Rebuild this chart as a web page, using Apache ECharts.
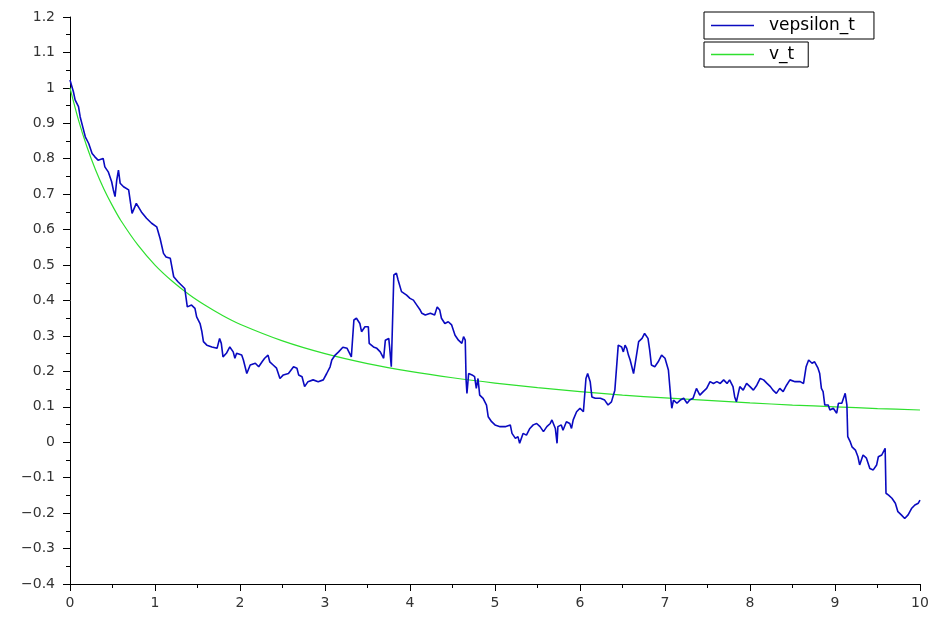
<!DOCTYPE html>
<html>
<head>
<meta charset="utf-8">
<script src="https://cdn.jsdelivr.net/npm/echarts@6/dist/echarts.min.js"></script>
<style>
html,body{margin:0;padding:0;background:#fff;}
#chart{width:935px;height:619px;}
</style>
</head>
<body>
<div id="chart"></div>
<script>
// ---- data ----
const seriesNames = ['vepsilon_t', 'v_t'];

// vepsilon_t : time values
const vepsT = [
  0, 0.02, 0.04, 0.06, 0.10, 0.12, 0.15, 0.18, 0.22, 0.26, 0.29, 0.33, 0.39, 0.41, 0.45, 0.49, 0.51, 0.53, 0.55, 0.57,
  0.59, 0.63, 0.69, 0.73, 0.78, 0.84, 0.90, 0.96, 1.02, 1.06, 1.10, 1.13, 1.18, 1.22, 1.27, 1.35, 1.37, 1.38, 1.43, 1.47,
  1.49, 1.53, 1.55, 1.57, 1.61, 1.67, 1.73, 1.76, 1.78, 1.80, 1.84, 1.88, 1.92, 1.94, 1.96, 2.02, 2.04, 2.08, 2.12, 2.18,
  2.22, 2.26, 2.29, 2.33, 2.35, 2.39, 2.43, 2.47, 2.51, 2.57, 2.63, 2.67, 2.69, 2.73, 2.76, 2.80, 2.86, 2.92, 2.98, 3.02,
  3.06, 3.08, 3.12, 3.16, 3.21, 3.26, 3.31, 3.33, 3.34, 3.37, 3.41, 3.43, 3.47, 3.51, 3.52, 3.57, 3.61, 3.65, 3.69, 3.71,
  3.75, 3.76, 3.78, 3.80, 3.81, 3.84, 3.86, 3.90, 3.96, 4.00, 4.04, 4.08, 4.12, 4.14, 4.18, 4.24, 4.29, 4.32, 4.35, 4.37,
  4.41, 4.45, 4.49, 4.53, 4.57, 4.61, 4.63, 4.65, 4.66, 4.67, 4.69, 4.73, 4.76, 4.78, 4.80, 4.82, 4.86, 4.90, 4.92, 4.96,
  5.00, 5.06, 5.12, 5.18, 5.20, 5.24, 5.27, 5.29, 5.33, 5.37, 5.41, 5.45, 5.49, 5.53, 5.57, 5.61, 5.65, 5.67, 5.71, 5.73,
  5.74, 5.78, 5.80, 5.84, 5.88, 5.90, 5.92, 5.96, 6.00, 6.04, 6.07, 6.09, 6.12, 6.14, 6.18, 6.24, 6.29, 6.33, 6.37, 6.41,
  6.43, 6.45, 6.49, 6.51, 6.53, 6.55, 6.57, 6.59, 6.63, 6.65, 6.69, 6.73, 6.76, 6.80, 6.82, 6.84, 6.88, 6.92, 6.96, 7.00,
  7.04, 7.07, 7.08, 7.10, 7.14, 7.18, 7.22, 7.26, 7.29, 7.33, 7.37, 7.41, 7.45, 7.49, 7.53, 7.57, 7.61, 7.65, 7.69, 7.73,
  7.76, 7.80, 7.82, 7.84, 7.88, 7.92, 7.96, 8.00, 8.04, 8.08, 8.12, 8.16, 8.20, 8.24, 8.27, 8.31, 8.35, 8.39, 8.43, 8.47,
  8.53, 8.59, 8.63, 8.66, 8.69, 8.73, 8.76, 8.80, 8.82, 8.84, 8.86, 8.88, 8.92, 8.94, 8.98, 9.02, 9.04, 9.08, 9.12, 9.14,
  9.15, 9.18, 9.20, 9.24, 9.27, 9.29, 9.33, 9.37, 9.41, 9.45, 9.49, 9.51, 9.55, 9.59, 9.60, 9.63, 9.67, 9.71, 9.74, 9.78,
  9.82, 9.86, 9.90, 9.94, 9.98, 10.00
];
// vepsilon_t : values
const vepsV = [
  1.022, 1.027, 0.989, 0.966, 0.947, 0.918, 0.890, 0.862, 0.843, 0.815, 0.806, 0.796, 0.801, 0.777, 0.763, 0.735, 0.712, 0.693, 0.740, 0.768,
  0.731, 0.721, 0.712, 0.646, 0.674, 0.650, 0.632, 0.618, 0.608, 0.575, 0.533, 0.523, 0.519, 0.467, 0.453, 0.434, 0.429, 0.382, 0.387, 0.378,
  0.354, 0.335, 0.314, 0.284, 0.274, 0.269, 0.265, 0.293, 0.279, 0.241, 0.251, 0.269, 0.255, 0.237, 0.251, 0.246, 0.232, 0.194, 0.218, 0.223,
  0.213, 0.227, 0.237, 0.246, 0.227, 0.218, 0.209, 0.180, 0.190, 0.194, 0.213, 0.209, 0.190, 0.185, 0.157, 0.171, 0.176, 0.171, 0.176, 0.194,
  0.213, 0.232, 0.246, 0.255, 0.268, 0.265, 0.241, 0.237, 0.345, 0.350, 0.335, 0.312, 0.326, 0.326, 0.279, 0.269, 0.265, 0.255, 0.237, 0.288,
  0.293, 0.269, 0.213, 0.213, 0.472, 0.477, 0.458, 0.425, 0.415, 0.406, 0.401, 0.387, 0.373, 0.364, 0.359, 0.364, 0.359, 0.382, 0.373, 0.350,
  0.335, 0.340, 0.331, 0.302, 0.288, 0.279, 0.298, 0.288, 0.176, 0.138, 0.194, 0.190, 0.185, 0.152, 0.180, 0.133, 0.124, 0.105, 0.072, 0.058,
  0.049, 0.044, 0.044, 0.049, 0.025, 0.011, 0.016, -0.003, 0.025, 0.020, 0.039, 0.049, 0.053, 0.044, 0.030, 0.044, 0.053, 0.063, 0.039, -0.003,
  0.044, 0.049, 0.034, 0.058, 0.053, 0.039, 0.063, 0.086, 0.096, 0.086, 0.180, 0.194, 0.171, 0.128, 0.124, 0.124, 0.119, 0.105, 0.114, 0.147,
  0.152, 0.274, 0.269, 0.255, 0.274, 0.265, 0.246, 0.232, 0.194, 0.223, 0.284, 0.293, 0.307, 0.293, 0.260, 0.218, 0.213, 0.227, 0.246, 0.237,
  0.204, 0.119, 0.096, 0.119, 0.110, 0.119, 0.124, 0.110, 0.119, 0.124, 0.152, 0.133, 0.143, 0.152, 0.171, 0.166, 0.171, 0.166, 0.176, 0.166,
  0.176, 0.157, 0.128, 0.114, 0.157, 0.147, 0.166, 0.157, 0.147, 0.161, 0.180, 0.176, 0.166, 0.157, 0.147, 0.138, 0.152, 0.143, 0.161, 0.176,
  0.171, 0.171, 0.166, 0.213, 0.232, 0.223, 0.227, 0.209, 0.194, 0.152, 0.143, 0.105, 0.105, 0.091, 0.096, 0.082, 0.110, 0.110, 0.138, 0.105,
  0.016, 0.001, -0.013, -0.022, -0.041, -0.064, -0.036, -0.045, -0.074, -0.078, -0.064, -0.041, -0.036, -0.017, -0.144, -0.149, -0.158, -0.172, -0.196, -0.205,
  -0.215, -0.205, -0.187, -0.177, -0.172, -0.163
];

// v_t : time values and values
const vT = [0, 0.1, 0.2, 0.3, 0.4, 0.5, 0.6, 0.8, 1, 1.2, 1.4, 1.6, 1.8, 2, 2.5, 3, 3.5, 4, 4.5, 5, 5.5, 6, 6.5, 7, 7.5, 8, 8.5, 9, 9.5, 10];
const vV = [1, 0.909, 0.833, 0.769, 0.714, 0.667, 0.625, 0.556, 0.5, 0.455, 0.417, 0.385, 0.357, 0.333, 0.286, 0.25, 0.222, 0.2, 0.182, 0.167,
  0.154, 0.143, 0.133, 0.125, 0.118, 0.111, 0.105, 0.1, 0.095, 0.091];

// axis ranges / ticks
const xMin = 0, xMax = 10, xStep = 1;
const yMin = -0.4, yMax = 1.2, yStep = 0.1;

// ---- build chart ----
const pairs = (ts, vs) => ts.map((t, i) => [t, vs[i]]);
const FONT = 'DejaVu Sans';
const BLUE = '#0a0ac0';
const GREEN = '#2ee02e';
const chart = echarts.init(document.getElementById('chart'), null, {renderer: 'canvas'});

const axisCommon = {
  axisLine: {show: true, onZero: false, lineStyle: {color: '#000', width: 1}},
  axisTick: {show: true, inside: false, length: 7, lineStyle: {color: '#000'}},
  minorTick: {show: true, splitNumber: 2, length: 4, lineStyle: {color: '#000'}},
  splitLine: {show: false},
  minorSplitLine: {show: false}
};

chart.setOption({
  animation: false,
  backgroundColor: '#fff',
  grid: {left: 70, right: 15, top: 17, bottom: 35, containLabel: false},
  legend: [
    {
      data: [{name: seriesNames[0], icon: 'rect', itemStyle: {color: BLUE}}],
      left: 704, top: 12, orient: 'horizontal',
      borderColor: '#000', borderWidth: 1, padding: [5, 19, 5, 7],
      itemWidth: 43, itemHeight: 1.3, selectedMode: false,
      textStyle: {fontFamily: FONT, fontSize: 17, color: '#000', padding: [0, 0, 0, 10], lineHeight: 15}
    },
    {
      data: [{name: seriesNames[1], icon: 'rect', itemStyle: {color: GREEN}}],
      left: 704, top: 42, orient: 'horizontal',
      borderColor: '#000', borderWidth: 1, padding: [4, 14, 4, 7],
      itemWidth: 43, itemHeight: 1.3, selectedMode: false,
      textStyle: {fontFamily: FONT, fontSize: 17, color: '#000', padding: [0, 0, 0, 10], lineHeight: 14}
    }
  ],
  xAxis: Object.assign({
    type: 'value', min: xMin, max: xMax, interval: xStep,
    axisLabel: {fontFamily: FONT, fontSize: 14, color: '#333', margin: 12}
  }, axisCommon),
  yAxis: Object.assign({
    type: 'value', min: yMin, max: yMax, interval: yStep,
    axisLabel: {
      fontFamily: FONT, fontSize: 14, color: '#333', margin: 15,
      formatter: v => {
        const r = Math.round(v * 10) / 10;
        const s = String(Math.abs(r));
        return (r < 0 ? '\u2212' : '') + s;
      }
    }
  }, axisCommon),
  series: [
    {
      name: seriesNames[0], type: 'line', data: pairs(vepsT, vepsV),
      symbol: 'none', showSymbol: false,
      lineStyle: {color: BLUE, width: 1.6},
      itemStyle: {color: BLUE}, z: 3
    },
    {
      name: seriesNames[1], type: 'line', data: pairs(vT, vV),
      symbol: 'none', showSymbol: false, smooth: 0.3,
      lineStyle: {color: GREEN, width: 1.2},
      itemStyle: {color: GREEN}, z: 2
    }
  ]
});
</script>
</body>
</html>
